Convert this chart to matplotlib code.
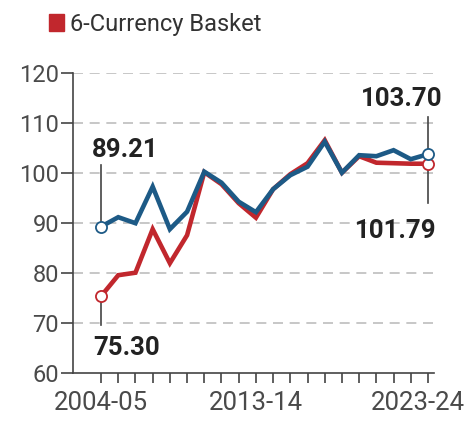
import numpy as np
import matplotlib
matplotlib.use("Agg")
import matplotlib.pyplot as plt
import matplotlib.transforms as mtransforms
from matplotlib.patches import Rectangle

years = ["2004-05", "2005-06", "2006-07", "2007-08", "2008-09", "2009-10",
         "2010-11", "2011-12", "2012-13", "2013-14", "2014-15", "2015-16",
         "2016-17", "2017-18", "2018-19", "2019-20", "2020-21", "2021-22",
         "2022-23", "2023-24"]
basket6 = [75.30, 79.5, 80.0, 88.7, 81.9, 87.5, 100.1, 97.7, 93.9, 91.0,
           96.7, 99.7, 101.9, 106.5, 100.0, 103.3, 102.0, 101.9, 101.8, 101.79]
basket40 = [89.21, 91.1, 89.9, 97.2, 88.7, 92.2, 100.2, 98.0, 94.2, 92.1,
            96.7, 99.5, 101.2, 106.2, 100.0, 103.5, 103.3, 104.5, 102.7, 103.70]
shown_ticks = ["2004-05", "2013-14", "2023-24"]
yticks = [60, 70, 80, 90, 100, 110, 120]

red = "#c1272d"
blue = "#1d5a86"
dark = "#444444"

W, H = 472, 421
fig = plt.figure(figsize=(W / 100, H / 100), dpi=100)
ax = fig.add_axes([73 / W, 48.3 / H, 361 / W, 300 / H])

x = np.arange(len(years))

for yv in yticks[1:]:
    ax.axhline(yv, color="#bdbdbd", lw=1.2, dashes=(6, 4), zorder=0)

ax.plot(x, basket6, color=red, lw=3.3, solid_joinstyle="miter", zorder=3)
ax.plot(x, basket40, color=blue, lw=3.3, solid_joinstyle="miter", zorder=4)

# leader lines
ax.plot([0, 0], [basket40[0], 101.5], color=dark, lw=1.2, zorder=2)
ax.plot([0, 0], [basket6[0], 69.5], color=dark, lw=1.2, zorder=2)
ax.plot([19, 19], [basket40[-1], 111.1], color=dark, lw=1.2, zorder=2)
ax.plot([19, 19], [basket6[-1], 93.9], color=dark, lw=1.2, zorder=2)

# end markers
for i in (0, len(x) - 1):
    ax.plot(x[i], basket6[i], "o", ms=8, mfc="white", mec=red, mew=1.3, zorder=5)
    ax.plot(x[i], basket40[i], "o", ms=8, mfc="white", mec=blue, mew=1.3, zorder=5)

lab = dict(fontsize=18.5, fontweight="bold", family="Roboto", color="#222222",
           ha="center", va="baseline")
ax.text(1.4, 103.1, f"{basket40[0]:.2f}", **lab)
ax.text(1.5, 63.5, f"{basket6[0]:.2f}", **lab)
ax.text(17.5, 113.3, f"{basket40[-1]:.2f}", **lab)
ax.text(17.1, 86.9, f"{basket6[-1]:.2f}", **lab)

ax.set_xlim(-1.63, 19.35)
ax.set_ylim(60, 120)
ax.set_yticks(yticks)
ax.set_xticks(x)
ax.set_xticklabels([y if y in shown_ticks else "" for y in years])

for s in ("top", "right"):
    ax.spines[s].set_visible(False)
for s in ("left", "bottom"):
    ax.spines[s].set_color(dark)
    ax.spines[s].set_linewidth(1.2)

ax.tick_params(axis="y", length=9, width=1.2, color=dark, pad=1,
               labelsize=17, labelcolor="#4a4a4a")
ax.tick_params(axis="x", length=7, width=1.2, color=dark, pad=6,
               labelsize=18.5, labelcolor="#4a4a4a")
for t in ax.get_xticklabels() + ax.get_yticklabels():
    t.set_family("Roboto")

# last year label sits a bit left of its tick
last = ax.get_xticklabels()[-1]
last.set_transform(last.get_transform() +
                   mtransforms.ScaledTranslation(-10 / 100, 0, fig.dpi_scale_trans))

# legend
fig.patches.append(Rectangle((49 / W, 1 - 31 / H), 15 / W, 17 / H,
                             transform=fig.transFigure, color=red))
fig.text(70 / W, 1 - 31 / H, "6-Currency Basket", fontsize=17, family="Roboto",
         color="#333333", ha="left", va="baseline")

fig.savefig("out.png", dpi=100)
